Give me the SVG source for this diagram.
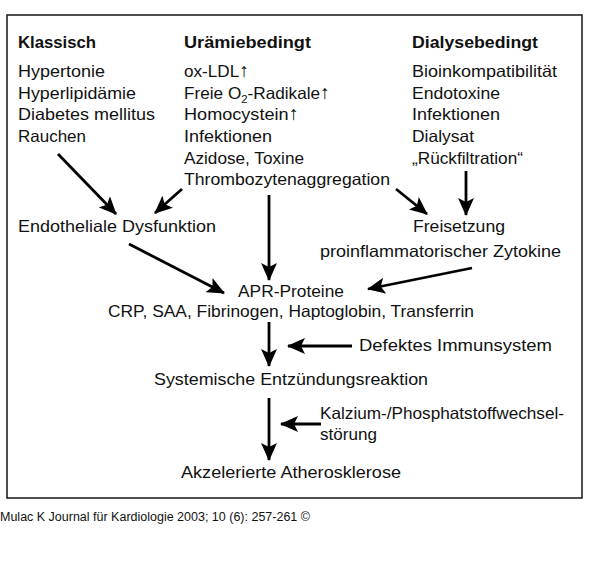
<svg xmlns="http://www.w3.org/2000/svg" width="600" height="569" viewBox="0 0 600 569">
<style>
text{font-family:"Liberation Sans",Arial,sans-serif;font-size:16.5px;fill:#111}
.h{font-weight:bold}
.f{font-size:12px}
.c line{stroke:#000;stroke-width:2.8;marker-end:url(#a)}
</style>
<defs><marker id="a" markerUnits="userSpaceOnUse" markerWidth="18" markerHeight="16" refX="17" refY="8" orient="auto"><path d="M0,0 L18,8 L0,16 L4,8 Z" fill="#000"/></marker></defs>
<rect width="600" height="569" fill="#fff"/>
<rect x="7" y="15" width="575" height="483" fill="none" stroke="#222" stroke-width="1.6"/>
<g id="klassisch">
<text class="h" x="18" y="48" textLength="78" lengthAdjust="spacingAndGlyphs">Klassisch</text>
<text x="18" y="77" textLength="87" lengthAdjust="spacingAndGlyphs">Hypertonie</text>
<text x="18" y="99" textLength="118" lengthAdjust="spacingAndGlyphs">Hyperlipidämie</text>
<text x="18" y="120" textLength="137" lengthAdjust="spacingAndGlyphs">Diabetes mellitus</text>
<text x="18" y="142" textLength="68" lengthAdjust="spacingAndGlyphs">Rauchen</text>
</g>
<g id="uraemie">
<text class="h" x="184" y="48" textLength="127" lengthAdjust="spacingAndGlyphs">Urämiebedingt</text>
<text x="184" y="77" textLength="65" lengthAdjust="spacingAndGlyphs">ox-LDL<tspan font-size="19">↑</tspan></text>
<text x="184" y="99" textLength="146" lengthAdjust="spacingAndGlyphs">Freie O<tspan font-size="11" dy="4">2</tspan><tspan dy="-4">-Radikale</tspan><tspan font-size="19">↑</tspan></text>
<text x="184" y="120" textLength="115" lengthAdjust="spacingAndGlyphs">Homocystein<tspan font-size="19">↑</tspan></text>
<text x="184" y="142" textLength="88" lengthAdjust="spacingAndGlyphs">Infektionen</text>
<text x="184" y="164" textLength="120" lengthAdjust="spacingAndGlyphs">Azidose, Toxine</text>
<text x="184" y="185" textLength="206" lengthAdjust="spacingAndGlyphs">Thrombozytenaggregation</text>
</g>
<g id="dialyse">
<text class="h" x="412" y="48" textLength="126" lengthAdjust="spacingAndGlyphs">Dialysebedingt</text>
<text x="412" y="77" textLength="145" lengthAdjust="spacingAndGlyphs">Bioinkompatibilität</text>
<text x="412" y="99" textLength="88" lengthAdjust="spacingAndGlyphs">Endotoxine</text>
<text x="412" y="120" textLength="88" lengthAdjust="spacingAndGlyphs">Infektionen</text>
<text x="412" y="142" textLength="62" lengthAdjust="spacingAndGlyphs">Dialysat</text>
<text x="412" y="164" textLength="111" lengthAdjust="spacingAndGlyphs">„Rückfiltration“</text>
</g>
<g id="endothel"><text x="18" y="232" textLength="198" lengthAdjust="spacingAndGlyphs">Endotheliale Dysfunktion</text></g>
<g id="freisetzung">
<text x="413" y="232" textLength="92" lengthAdjust="spacingAndGlyphs">Freisetzung</text>
<text x="320" y="257" textLength="241" lengthAdjust="spacingAndGlyphs">proinflammatorischer Zytokine</text>
</g>
<g id="apr">
<text x="238" y="297" textLength="106" lengthAdjust="spacingAndGlyphs">APR-Proteine</text>
<text x="108" y="317" textLength="366" lengthAdjust="spacingAndGlyphs">CRP, SAA, Fibrinogen, Haptoglobin, Transferrin</text>
</g>
<g id="immun"><text x="359" y="351" textLength="193" lengthAdjust="spacingAndGlyphs">Defektes Immunsystem</text></g>
<g id="systemisch"><text x="154" y="385" textLength="274" lengthAdjust="spacingAndGlyphs">Systemische Entzündungsreaktion</text></g>
<g id="kalzium">
<text x="320" y="419" textLength="244" lengthAdjust="spacingAndGlyphs">Kalzium-/Phosphatstoffwechsel-</text>
<text x="320" y="440" textLength="57" lengthAdjust="spacingAndGlyphs">störung</text>
</g>
<g id="athero"><text x="181" y="478" textLength="220" lengthAdjust="spacingAndGlyphs">Akzelerierte Atherosklerose</text></g>
<g class="c" id="connectors">
<line x1="58" y1="154" x2="116" y2="214"/>
<line x1="182" y1="189" x2="155" y2="213"/>
<line x1="269" y1="195" x2="269" y2="280"/>
<line x1="396" y1="189" x2="427" y2="214"/>
<line x1="466" y1="171" x2="466" y2="215"/>
<line x1="129" y1="244" x2="224" y2="293"/>
<line x1="472" y1="268" x2="368" y2="289"/>
<line x1="269" y1="322" x2="269" y2="366"/>
<line x1="352" y1="346" x2="288" y2="346"/>
<line x1="269" y1="398" x2="269" y2="460"/>
<line x1="321" y1="424" x2="281" y2="424"/>
</g>
<text class="f" x="0" y="521" textLength="310" lengthAdjust="spacingAndGlyphs">Mulac K Journal für Kardiologie 2003; 10 (6): 257-261 ©</text>
</svg>
